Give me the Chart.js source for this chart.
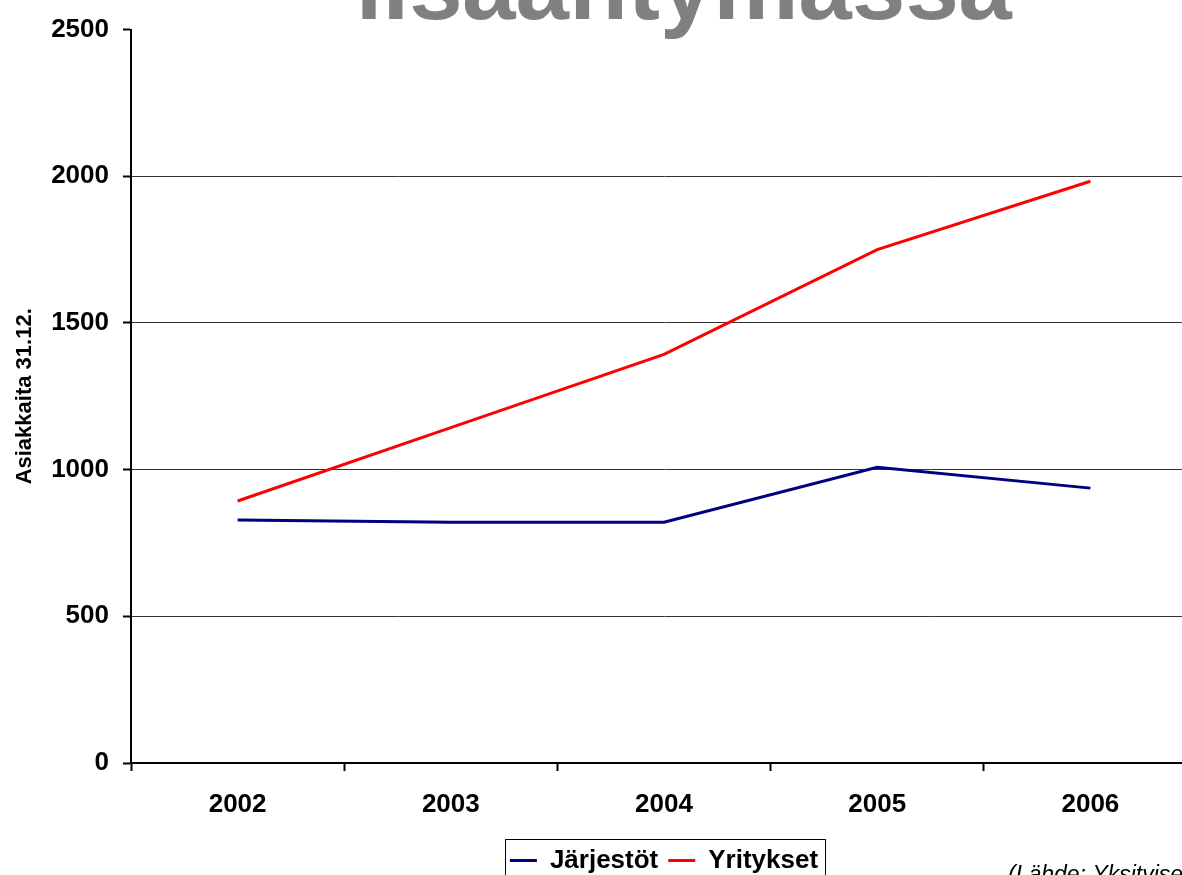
<!DOCTYPE html>
<html>
<head>
<meta charset="utf-8">
<script src="https://cdn.jsdelivr.net/npm/chart.js@4"></script>
<style>
  html, body { margin: 0; padding: 0; background: #fff; overflow: hidden; }
  #wrap { position: relative; width: 1182px; height: 875px; overflow: hidden; }
  #chart { display: block; }
</style>
</head>
<body>
<div id="wrap"><canvas id="chart" width="1230" height="900"></canvas></div>
<script>
// data
const years = ['2002', '2003', '2004', '2005', '2006'];
const jarjestot = [828, 821, 821, 1008, 937];
const yritykset = [893, 1143, 1393, 1750, 1983];
const yMin = 0, yMax = 2500, yStep = 500;

const titleText = 'lisääntymässä';
const yTitle = 'Asiakkaita 31.12.';
const sourceText = '(Lähde: Yksityiset sosiaalipalvelut)';

const FONT = 'Arial, "Liberation Sans", sans-serif';

// title, source line and the frame round the legend
const extras = {
  id: 'extras',
  afterLayout(chart) {
    const lg = chart.legend;
    const pad = lg.options.labels.padding;
    const dx = 664 - (lg.left + lg.right) / 2;
    const dy = (863 - 15.6 - pad) - lg.top;
    lg.left += dx; lg.right += dx;
    lg.top += dy; lg.bottom += dy;
  },
  afterDraw(chart) {
    const ctx = chart.ctx;
    const boxes = chart.legend.legendHitBoxes;
    ctx.save();
    if (boxes && boxes.length) {
      let l = Infinity, r = -Infinity;
      boxes.forEach(b => { l = Math.min(l, b.left); r = Math.max(r, b.left + b.width); });
      const cy = boxes[0].top + boxes[0].height / 2;
      ctx.strokeStyle = '#000';
      ctx.lineWidth = 1;
      ctx.strokeRect(Math.round(l - 5) + 0.5, Math.round(cy - 21) + 0.5, Math.round(r - l + 12), 80);
    }
    ctx.fillStyle = '#808080';
    ctx.font = 'bold 96px ' + FONT;
    ctx.textAlign = 'center';
    ctx.textBaseline = 'alphabetic';
    ctx.fillText(titleText, 684, 19);

    ctx.fillStyle = '#000';
    ctx.font = 'italic 23px ' + FONT;
    ctx.textAlign = 'left';
    ctx.fillText(sourceText, 1008, 882);
    ctx.restore();
  }
};

const chart = new Chart(document.getElementById('chart'), {
  type: 'line',
  data: {
    labels: years,
    datasets: [
      {
        label: 'Järjestöt',
        data: jarjestot,
        borderColor: '#000080',
        backgroundColor: '#000080',
        borderWidth: 3,
        pointRadius: 0,
        pointStyle: 'line',
        tension: 0
      },
      {
        label: 'Yritykset',
        data: yritykset,
        borderColor: '#ff0000',
        backgroundColor: '#ff0000',
        borderWidth: 3,
        pointRadius: 0,
        pointStyle: 'line',
        tension: 0
      }
    ]
  },
  options: {
    responsive: false,
    animation: false,
    layout: { padding: { top: 19, right: 33, bottom: 31, left: 0 } },
    plugins: {
      title: { display: false },
      tooltip: { enabled: false },
      legend: {
        position: 'bottom',
        labels: {
          usePointStyle: true,
          pointStyleWidth: 27,
          padding: 10,
          color: '#000',
          font: { family: FONT, size: 26, weight: 'bold' }
        }
      }
    },
    scales: {
      x: {
        offset: true,
        afterFit(s) { s.height = 60; },
        grid: {
          offset: true,
          drawOnChartArea: false,
          drawTicks: true,
          tickLength: 8,
          tickColor: '#000',
          tickWidth: 2
        },
        border: { display: true, color: '#000', width: 2 },
        ticks: {
          color: '#000',
          padding: 18,
          maxRotation: 0,
          font: { family: FONT, size: 26, weight: 'bold' }
        }
      },
      y: {
        min: yMin,
        max: yMax,
        afterFit(s) { s.width = 131; },
        grid: {
          color: ctx => (ctx.tick && ctx.tick.value === yMax) ? 'rgba(0,0,0,0)' : '#333',
          lineWidth: 1,
          tickLength: 8,
          tickColor: '#000',
          tickWidth: 2
        },
        border: { display: true, color: '#000', width: 2 },
        ticks: {
          stepSize: yStep,
          color: '#000',
          padding: 14,
          font: { family: FONT, size: 26, weight: 'bold' },
          callback: v => String(v)
        },
        title: {
          display: true,
          text: yTitle,
          color: '#000',
          padding: { top: 12, bottom: 0 },
          font: { family: FONT, size: 22, weight: 'bold' }
        }
      }
    }
  },
  plugins: [extras]
});
</script>
</body>
</html>
